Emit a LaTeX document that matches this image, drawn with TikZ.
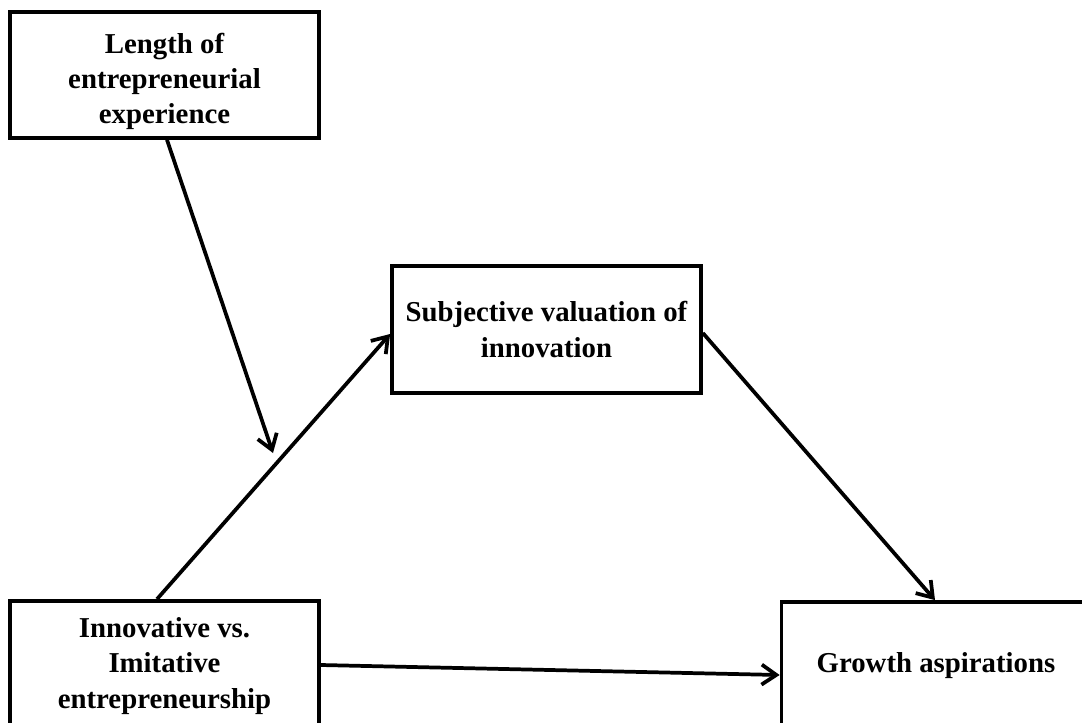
\documentclass[tikz,border=0pt]{standalone}
\usepackage{fontspec}
\setmainfont{Liberation Serif}
\usetikzlibrary{arrows.meta,calc}
\begin{document}
\begin{tikzpicture}[x=0.75pt,y=-0.75pt,
  txt/.style={inner sep=0pt,align=center,font=\bfseries\fontsize{21.6}{26.3}\selectfont},
  box/.style={txt,draw,line width=2.8pt,minimum width=231.75pt},
  arr/.style={line width=2.8pt,-{Straight Barb[length=11pt,width=15pt,line width=2.8pt]}}]
\useasboundingbox (0,0) rectangle (1082,722);
\node[box,minimum height=94.5pt] (len) at (164.5,75) {};
\node[txt] (lentxt) at (164.5,81) {Length of\\entrepreneurial\\experience};
\node[box,minimum height=95.25pt] (sub) at (546.5,329.5) {Subjective valuation of\\innovation};
\node[box,minimum height=97.5pt] (inn) at (164.5,666) {Innovative vs.\\Imitative\\entrepreneurship};
\node[box,minimum height=96pt] (gro) at (936,666) {Growth aspirations};
\coordinate (mod) at (273,453);
\draw[arr] ($(len.south)+(2.5,0)$) -- (mod);
\draw[arr] ($(inn.north)+(-7.5,0)$) -- ($(sub.west)+(0,4.5)$);
\draw[arr] ($(sub.east)+(0,3.5)$) -- ($(gro.north)+(-1,0)$);
\draw[arr] ($(inn.east)+(0,-1)$) -- ($(gro.west)+(0,9)$);
\end{tikzpicture}
\end{document}
